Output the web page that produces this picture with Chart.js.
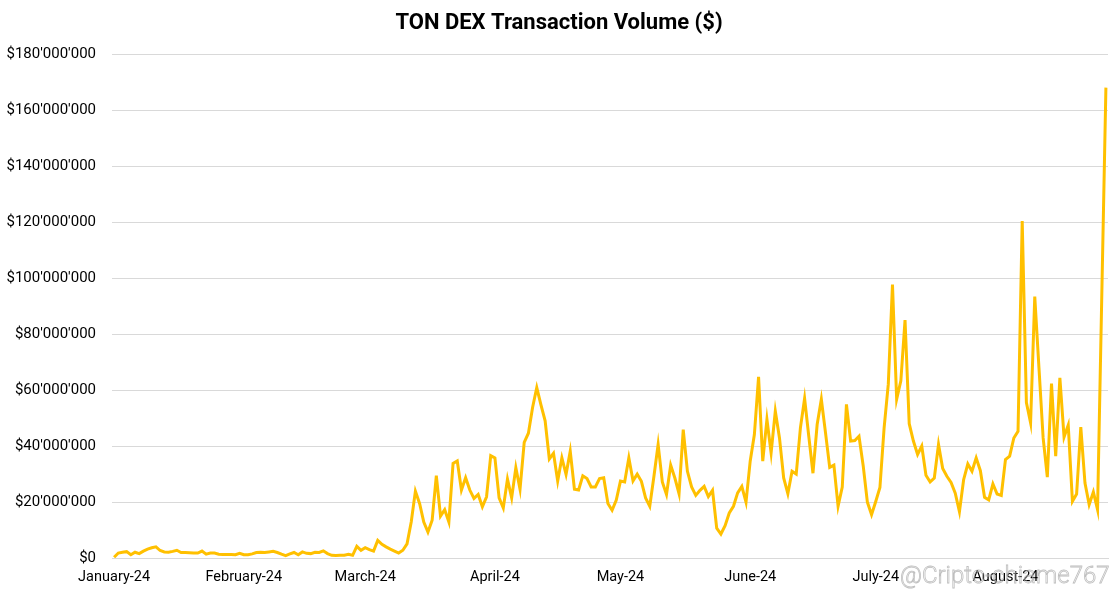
<!DOCTYPE html>
<html>
<head>
<meta charset="utf-8">
<script src="https://cdn.jsdelivr.net/npm/chart.js@4.4.1/dist/chart.umd.min.js"></script>
<style>
  html, body { margin: 0; padding: 0; background: #ffffff; }
  #wrap { width: 1120px; height: 594px; position: relative; }
</style>
</head>
<body>
<div id="wrap"><canvas id="chart" width="1120" height="594"></canvas></div>
<script>
// ---------- data ----------
const chartTitle = 'TON DEX Transaction Volume ($)';
const watermarkText = '@Cripto-chiame767';
const startDate = '2024-01-01';
const monthTickLabels = ['January-24', 'February-24', 'March-24', 'April-24', 'May-24', 'June-24', 'July-24', 'August-24'];
const yAxisMin = 0;
const yAxisMax = 180;      // millions of $
const yAxisStep = 20;      // millions of $

// daily DEX volume, millions of $ (null = no data for that date)
const volumeMillions = [
  0.3, 1.8, 2.1, 2.3, 1.2, 2.1, 1.6, 2.5, 3.2, 3.7,
  4.0, 2.7, 2.2, 2.1, 2.4, 2.8, 2.0, 2.0, 1.9, 1.8,
  1.8, 2.5, 1.4, 1.8, 1.8, 1.4, 1.3, 1.3, 1.3, 1.2,
  1.7, 1.2, 1.2, 1.5, 2.0, 2.1, 2.0, 2.2, 2.4, 2.0,
  1.4, 0.9, 1.5, 2.0, 1.2, 2.2, 1.7, 1.6, 2.1, 2.0,
  2.6, 1.6, 1.0, 0.9, 1.0, 1.0, 1.4, 1.0, 4.2, 2.8,
  3.7, 3.0, 2.5, 6.3, 4.9, 4.0, 3.2, 2.5, 1.8, 2.8,
  5.1, 12.9, 23.9, 19.5, 12.9, 9.3, 13.5, 29.4, 15.0, 17.3,
  12.9, 33.8, 34.7, 24.3, 28.7, 24.3, 21.3, 22.7, 18.3, 21.9,
  36.6, 35.8, 21.5, 17.9, 28.2, 21.5, 32.3, 24.6, 41.3, 44.6,
  53.8, 60.9, 54.7, 49.0, 35.4, 37.4, 27.5, 35.8, 29.9, 38.2,
  24.6, 24.3, 29.4, 28.4, 25.4, 25.4, 28.4, 28.7, 19.5, 17.1,
  20.7, 27.5, 27.2, 35.8, 27.6, 30.0, 27.4, 21.5, 18.5, 29.2,
  40.6, 27.2, 22.7, 33.2, 28.6, 23.0, 45.9, 31.0, 25.4, 22.4,
  24.2, 25.6, 22.0, 24.2, 10.7, 8.6, 11.6, 16.1, 18.5, 23.3,
  25.6, 20.0, 34.6, 44.1, 64.7, 34.6, 49.5, 37.6, 52.5, 42.9,
  28.6, 23.0, 31.0, 30.0, 46.5, 57.0, 43.5, 30.3, 47.7, 56.7,
  44.7, 32.4, 33.2, 18.5, 25.4, 54.9, 41.8, 42.0, 43.5, 33.0,
  20.0, 15.5, 20.2, 25.2, 46.5, 62.1, 97.7, 56.7, 63.3, 85.0,
  48.0, 41.8, 37.0, 40.0, 29.6, 27.2, 28.6, 40.6, 32.0, 29.2,
  27.0, 23.2, 16.6, 28.0, 33.6, 31.0, 35.8, 31.2, 21.7, 20.8,
  26.5, 22.9, 22.4, 35.2, 36.4, 42.9, 45.3, 120.4, 55.5, 48.3,
  93.4, 68.0, 42.9, 28.9, 62.3, 36.4, 64.4, 43.2, 47.5, 20.3,
  22.9, 46.8, 26.8, 19.1, 23.6, 17.3, null, 168.0
];

// ---------- category labels (one per day) ----------
const dayLabels = volumeMillions.map((_, i) => {
  const d = new Date(startDate + 'T00:00:00Z');
  d.setUTCDate(d.getUTCDate() + i);
  return d.toISOString().slice(0, 10);
});
const isMonthStart = (i) => i >= 0 && i < dayLabels.length && dayLabels[i].slice(8, 10) === '01';
const monthLabelAt = (i) => monthTickLabels[parseInt(dayLabels[i].slice(5, 7), 10) - 1];

const fmtDollar = (v) => '$' + String(Math.round(v * 1000000)).replace(/\B(?=(\d{3})+(?!\d))/g, "'");

// ---------- plugins ----------
const titlePlugin = {
  id: 'customTitle',
  afterDraw(chart) {
    const ctx = chart.ctx;
    ctx.save();
    ctx.font = 'bold 22px Roboto';
    ctx.fillStyle = '#000000';
    ctx.textAlign = 'center';
    ctx.textBaseline = 'middle';
    ctx.fillText(chartTitle, 559, 23);
    ctx.restore();
  }
};
const watermarkPlugin = {
  id: 'watermark',
  afterDraw(chart) {
    const ctx = chart.ctx;
    ctx.save();
    ctx.font = '300 24px Roboto';
    ctx.strokeStyle = 'rgba(175,175,175,0.8)';
    ctx.lineWidth = 0.8;
    ctx.textAlign = 'left';
    ctx.textBaseline = 'alphabetic';
    ctx.strokeText(watermarkText, 900, 583);
    ctx.restore();
  }
};

new Chart(document.getElementById('chart'), {
  type: 'line',
  data: {
    labels: dayLabels,
    datasets: [{
      label: chartTitle,
      data: volumeMillions,
      borderColor: '#FFC000',
      backgroundColor: '#FFC000',
      borderWidth: 3,
      pointRadius: 0,
      pointHoverRadius: 0,
      tension: 0,
      spanGaps: true,
      fill: false
    }]
  },
  options: {
    responsive: false,
    animation: false,
    devicePixelRatio: 1,
    layout: { padding: { top: 54, right: 12, bottom: 1.5, left: 0 } },
    plugins: {
      legend: { display: false },
      title: { display: false },
      tooltip: { enabled: false }
    },
    scales: {
      x: {
        type: 'category',
        offset: true,
        grid: {
          offset: true,
          drawOnChartArea: false,
          drawTicks: true,
          tickLength: 5,
          color: (ctx) => isMonthStart(ctx.index) ? '#c8c8c8' : 'rgba(0,0,0,0)'
        },
        border: { display: true, color: '#d9d9d9', width: 1 },
        ticks: {
          autoSkip: false,
          maxRotation: 0,
          minRotation: 0,
          padding: 6,
          color: '#000000',
          font: { family: 'Roboto', size: 14.5 },
          callback: (value, index) => isMonthStart(index) ? monthLabelAt(index) : null
        }
      },
      y: {
        min: yAxisMin,
        max: yAxisMax,
        afterFit: (scale) => { scale.width = 112; },
        grid: { color: '#d9d9d9', lineWidth: 1, drawTicks: false },
        border: { display: false },
        ticks: {
          stepSize: yAxisStep,
          padding: 16,
          color: '#000000',
          font: { family: 'Roboto', size: 15 },
          callback: (v) => fmtDollar(v)
        }
      }
    }
  },
  plugins: [titlePlugin, watermarkPlugin]
});
</script>
</body>
</html>
